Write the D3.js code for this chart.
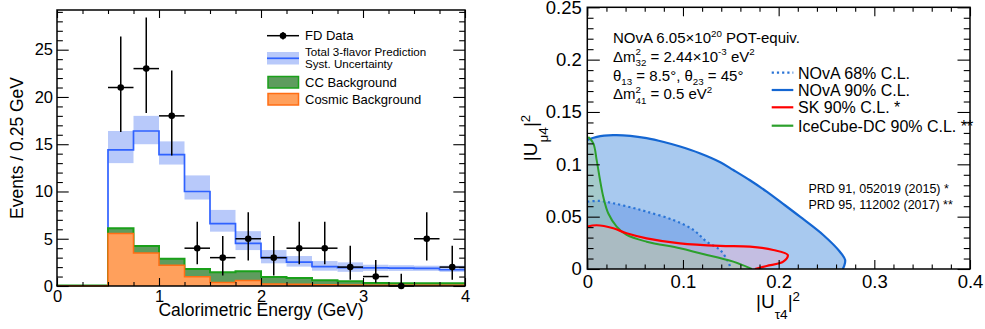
<!DOCTYPE html>
<html><head><meta charset="utf-8">
<script src="https://cdn.jsdelivr.net/npm/d3@7"></script>
<style>
body{margin:0;background:#fff;}
svg{display:block;font-family:"Liberation Sans",Arial,Helvetica,sans-serif;}
svg text{white-space:pre;}
</style></head><body>
<svg id="c" width="985" height="329"></svg>
<script>
// ---------- LEFT PANEL DATA ----------
const binEdges=[0,0.25,0.5,0.75,1,1.25,1.5,1.75,2,2.25,2.5,2.75,3,3.25,3.5,3.75,4];
const predTotal=[0,0,14.4,16.4,13.9,10.0,6.6,4.5,3.0,2.52,2.05,1.94,1.92,1.89,1.86,1.72];
const predLow=[0,0,13.0,15.0,12.85,9.15,5.75,3.8,2.4,2.05,1.62,1.5,1.6,1.6,1.6,1.5];
const predHigh=[0,0,16.4,18.0,15.3,11.7,8.05,5.8,3.8,3.17,2.64,2.5,2.25,2.2,2.15,2.15];
const ccStackTop=[0.05,0.05,6.12,4.22,2.89,1.8,1.45,1.56,0.96,0.85,0.6,0.49,0.32,0.3,0.3,0.3];
const cosmicBkg=[0.03,0.03,5.55,3.48,2.2,0.99,0.38,0.58,0.21,0.18,0.14,0.1,0.07,0.07,0.07,0.07];
const dataX=[0.625,0.875,1.125,1.375,1.625,1.875,2.125,2.375,2.625,2.875,3.125,3.375,3.625,3.875];
const dataY=[21,23,18,4,3,5,3,4,4,2,1,0,5,2];
const dataLow=[16.3,18.3,13.8,2.3,1.1,2.7,1.1,2.3,2.3,0.65,0.35,0,2.7,0.65];
const dataHigh=[26.4,28.4,22.8,6.8,5.3,7.8,5.3,6.8,6.8,4.25,2.75,1.3,7.8,4.25];
const leftYTicks=[0,5,10,15,20,25];
const leftYMinor=[1,2,3,4,6,7,8,9,11,12,13,14,16,17,18,19,21,22,23,24,26,27,28,29];
const leftXTicks=[0,1,2,3,4];
const leftXMinor=[0.25,0.5,0.75,1.25,1.5,1.75,2.25,2.5,2.75,3.25,3.5,3.75];

// ---------- RIGHT PANEL DATA ----------
const nova90=[[0,0.1233],[0.01,0.1262],[0.027,0.1278],[0.045,0.1272],[0.062,0.125],[0.08,0.1213],[0.097,0.117],[0.1175,0.1106],[0.139,0.102],[0.1526,0.0946],[0.17,0.0848],[0.1875,0.0739],[0.205,0.062],[0.2223,0.05],[0.2466,0.0325],[0.264,0.0165],[0.2695,0.0086],[0.2685,0.003],[0.267,0]];
const nova68=[[0,0.0643],[0.0133,0.065],[0.0272,0.0628],[0.045,0.059],[0.062,0.0548],[0.0899,0.0468],[0.111,0.0373],[0.1247,0.0261],[0.1387,0.0182],[0.146,0.009],[0.149,0.002],[0.148,0]];
const sk90=[[0,0.0405],[0.0098,0.0418],[0.0272,0.0389],[0.0411,0.0341],[0.062,0.0293],[0.0969,0.0245],[0.1387,0.022],[0.17,0.0213],[0.1944,0.0182],[0.2095,0.0134],[0.2048,0.007],[0.1875,0.0029],[0.1752,0]];
const ice90=[[0.001,0.126],[0.0063,0.12],[0.0098,0.104],[0.0133,0.085],[0.0167,0.069],[0.022,0.053],[0.0307,0.0405],[0.0411,0.0325],[0.062,0.0261],[0.0969,0.0198],[0.1178,0.015],[0.1526,0.007],[0.1718,0]];
const rightYTicks=[0,0.05,0.1,0.15,0.2,0.25];
const rightYMinor=[0.01,0.02,0.03,0.04,0.06,0.07,0.08,0.09,0.11,0.12,0.13,0.14,0.16,0.17,0.18,0.19,0.21,0.22,0.23,0.24];
const rightXTicks=[0,0.1,0.2,0.3,0.4];
const rightXMinor=[0.02,0.04,0.06,0.08,0.12,0.14,0.16,0.18,0.22,0.24,0.26,0.28,0.32,0.34,0.36,0.38];
const rightLegend=["NOvA 68% C.L.","NOvA 90% C.L.","SK 90% C.L. *","IceCube-DC 90% C.L. **"];
const refs=["PRD 91, 052019 (2015) *","PRD 95, 112002 (2017) **"];

const svg=d3.select('#c');
svg.append('rect').attr('width',985).attr('height',329).attr('fill','#fff');

// rich text helper
function rich(parent,x,y,parts,fs,o){
  o=Object.assign({supS:0.65,supDy:-0.42,subS:0.65,subDy:0.3,rot:false,center:false},o||{});
  const outer=parent.append('g').attr('transform',`translate(${x},${y})`+(o.rot?' rotate(-90)':''));
  const g=outer.append('g');
  let cx=0;
  const add=(t,size,dy)=>{const el=g.append('text').attr('x',cx).attr('y',dy).attr('font-size',size).attr('fill','#000').attr('xml:space','preserve').style('white-space','pre').text(t);return el.node().getComputedTextLength();};
  parts.forEach(p=>{
    if(p[0]==='n'){cx+=add(p[1],fs,0);}
    else if(p[0]==='sup'){cx+=add(p[1],fs*o.supS,fs*o.supDy);}
    else if(p[0]==='sub'){cx+=add(p[1],fs*o.subS,fs*o.subDy);}
    else if(p[0]==='ss'){const a=add(p[1],fs*o.supS,fs*o.supDy);const b=add(p[2],fs*o.subS,fs*o.subDy);cx+=Math.max(a,b);}
  });
  if(o.center) g.attr('transform',`translate(${-cx/2},0)`);
  return cx;
}

function drawAxes(xs,ys,xT,xMin,yT,yMin,opt){
  const [x0,x1]=xs.range(),[y0,y1]=ys.range();
  const g=svg.append('g');
  const mk=(axis,tr,vals,size,labels,pad,fs)=>{
    const a=axis.tickValues(vals).tickSize(size).tickPadding(pad);
    if(!labels) a.tickFormat('');
    else a.tickFormat(opt.fmt);
    const ga=g.append('g').attr('transform',tr).call(a);
    ga.select('.domain').remove();
    ga.selectAll('line').attr('stroke','#000').attr('stroke-width',1.1);
    ga.selectAll('text').attr('font-size',fs).attr('fill','#000').attr('font-family','"Liberation Sans",Arial,sans-serif');
  };
  mk(d3.axisLeft(ys),`translate(${x0},0)`,yT,-opt.yMaj,true,opt.yPad,opt.fs);
  mk(d3.axisLeft(ys),`translate(${x0},0)`,yMin,-opt.yMaj/2,false,0,0);
  mk(d3.axisRight(ys),`translate(${x1},0)`,yT,-opt.yMaj,false,0,0);
  mk(d3.axisRight(ys),`translate(${x1},0)`,yMin,-opt.yMaj/2,false,0,0);
  mk(d3.axisBottom(xs),`translate(0,${y0})`,xT,-opt.xMaj,true,opt.xPad,opt.fs);
  mk(d3.axisBottom(xs),`translate(0,${y0})`,xMin,-opt.xMaj/2,false,0,0);
  mk(d3.axisTop(xs),`translate(0,${y1})`,xT,-opt.xMaj,false,0,0);
  mk(d3.axisTop(xs),`translate(0,${y1})`,xMin,-opt.xMaj/2,false,0,0);
  g.append('rect').attr('x',x0).attr('y',y1).attr('width',x1-x0).attr('height',y0-y1)
    .attr('fill','none').attr('stroke','#000').attr('stroke-width',1.5);
}

// ================= LEFT PANEL =================
const xL=d3.scaleLinear([0,4],[57,465]);
const yL=d3.scaleLinear([0,29.2],[286,10]);
const L=svg.append('g');
const stepPts=(vals)=>vals.map((v,i)=>[binEdges[i],v]).concat([[binEdges[vals.length],vals[vals.length-1]]]);
const stepLine=d3.line().x(d=>xL(d[0])).y(d=>yL(d[1])).curve(d3.curveStepAfter);
const stepArea=d3.area().x(d=>xL(d[0])).y0(yL(0)).y1(d=>yL(d[1])).curve(d3.curveStepAfter);

// syst band
const bandPts=predLow.map((v,i)=>({x0:binEdges[i],x1:binEdges[i+1],lo:v,hi:predHigh[i]})).filter(d=>d.hi>0);
L.selectAll('.band').data(bandPts).join('rect')
  .attr('x',d=>xL(d.x0)).attr('width',d=>xL(d.x1)-xL(d.x0))
  .attr('y',d=>yL(d.hi)).attr('height',d=>yL(d.lo)-yL(d.hi))
  .attr('fill','#b8c9fa');
// prediction line (from 0.5 GeV)
const predPts=stepPts(predTotal).slice(2);
predPts.unshift([binEdges[2],0]);
L.append('path').attr('d',stepLine(predPts))
  .attr('fill','none').attr('stroke','#2f62ff').attr('stroke-width',1.7);
// CC background (stacked on cosmic)
L.append('path').attr('d',stepArea(stepPts(ccStackTop))).attr('fill','#5e9c5e');
L.append('path').attr('d',stepLine([[0,0]].concat(stepPts(ccStackTop)))).attr('fill','none').attr('stroke','#1aa01a').attr('stroke-width',2);
// cosmic
L.append('path').attr('d',stepArea(stepPts(cosmicBkg))).attr('fill','#ffa05c');
L.append('path').attr('d',stepLine([[0,0]].concat(stepPts(cosmicBkg)))).attr('fill','none').attr('stroke','#ff6e14').attr('stroke-width',1.5);
// data
const D=L.append('g');
dataX.forEach((x,i)=>{
  D.append('line').attr('x1',xL(x)).attr('x2',xL(x)).attr('y1',yL(dataLow[i])).attr('y2',yL(dataHigh[i])).attr('stroke','#000').attr('stroke-width',1.5);
  D.append('line').attr('x1',xL(x-0.125)).attr('x2',xL(x+0.125)).attr('y1',yL(dataY[i])).attr('y2',yL(dataY[i])).attr('stroke','#000').attr('stroke-width',1.5);
  D.append('circle').attr('cx',xL(x)).attr('cy',yL(dataY[i])).attr('r',3.3).attr('fill','#000');
});
drawAxes(xL,yL,leftXTicks,leftXMinor,leftYTicks,leftYMinor,{yMaj:11.7,xMaj:8,yPad:4,xPad:4,fs:16.5,fmt:d3.format('d')});
L.append('text').attr('x',261).attr('y',316).attr('text-anchor','middle').attr('font-size',17.5).text('Calorimetric Energy (GeV)');
L.append('text').attr('transform','translate(23,148) rotate(-90)').attr('text-anchor','middle').attr('font-size',17.5).text('Events / 0.25 GeV');

// left legend
const LG=svg.append('g');
LG.append('line').attr('x1',267).attr('x2',299).attr('y1',35.7).attr('y2',35.7).attr('stroke','#000').attr('stroke-width',1.5);
LG.append('line').attr('x1',283).attr('x2',283).attr('y1',32).attr('y2',39.5).attr('stroke','#000').attr('stroke-width',1.5);
LG.append('circle').attr('cx',283).attr('cy',35.7).attr('r',3.3).attr('fill','#000');
LG.append('text').attr('x',305).attr('y',40).attr('font-size',13).text('FD Data');
LG.append('rect').attr('x',267).attr('y',52).attr('width',32).attr('height',12.5).attr('fill','#b8c9fa');
LG.append('line').attr('x1',267).attr('x2',299).attr('y1',58.3).attr('y2',58.3).attr('stroke','#2f62ff').attr('stroke-width',1.7);
LG.append('text').attr('x',305).attr('y',56).attr('font-size',11.6).text('Total 3-flavor Prediction');
LG.append('text').attr('x',305).attr('y',68).attr('font-size',11.6).text('Syst. Uncertainty');
LG.append('rect').attr('x',268).attr('y',76.5).attr('width',30.5).attr('height',11.5).attr('fill','#5e9c5e').attr('stroke','#1aa01a').attr('stroke-width',1.5);
LG.append('text').attr('x',305).attr('y',86.5).attr('font-size',13).text('CC Background');
LG.append('rect').attr('x',268).attr('y',93.5).attr('width',30.5).attr('height',11.5).attr('fill','#ffa05c').attr('stroke','#ff6e14').attr('stroke-width',1.5);
LG.append('text').attr('x',305).attr('y',103.5).attr('font-size',13).text('Cosmic Background');

// ================= RIGHT PANEL =================
const xR=d3.scaleLinear([0,0.4],[587.3,970]);
const yR=d3.scaleLinear([0,0.25],[269,7.3]);
svg.append('clipPath').attr('id','rc').append('rect').attr('x',587.3).attr('y',7.3).attr('width',970-587.3).attr('height',269-7.3);
const R=svg.append('g').attr('clip-path','url(#rc)');
const cl=d3.line().x(d=>xR(d[0])).y(d=>yR(d[1])).curve(d3.curveCatmullRom.alpha(0.5));
const fillPath=pts=>cl(pts)+`L${xR(0)},${yR(0)}Z`;
R.append('path').attr('d',fillPath(nova90)).attr('fill','#a8c9ef');
R.append('path').attr('d',fillPath(nova68)).attr('fill','rgb(30,100,220)').attr('fill-opacity',0.25);
R.append('path').attr('d',fillPath(sk90)).attr('fill','rgb(230,178,210)').attr('fill-opacity',0.45);
R.append('path').attr('d',fillPath(ice90)).attr('fill','rgb(160,205,150)').attr('fill-opacity',0.4);
R.append('path').attr('d',cl(nova90)).attr('fill','none').attr('stroke','#1466d2').attr('stroke-width',2.2);
R.append('path').attr('d',cl(nova68)).attr('fill','none').attr('stroke','#2a74d6').attr('stroke-width',2.2).attr('stroke-dasharray','2.2,3');
R.append('path').attr('d',cl(ice90)).attr('fill','none').attr('stroke','#2ca02c').attr('stroke-width',2);
R.append('path').attr('d',cl(sk90)).attr('fill','none').attr('stroke','#ff0000').attr('stroke-width',2.2);

drawAxes(xR,yR,rightXTicks,rightXMinor,rightYTicks,rightYMinor,{yMaj:12.5,xMaj:9,yPad:5.5,xPad:6,fs:18.5,fmt:d=>d===0?'0':d3.format('')(d)});

// titles
rich(svg,778,307.7,[['n','|U'],['sub','τ4'],['n','|'],['sup','2']],19,{supS:0.7,supDy:-0.35,subS:0.72,subDy:0.6,center:true});
rich(svg,537,138,[['n','|U'],['sub','μ4'],['n','|'],['sup','2']],19,{supS:0.7,supDy:-0.35,subS:0.72,subDy:0.6,center:true,rot:true});

// info text
const T=svg.append('g');
rich(T,613,43.3,[['n','NOvA 6.05×10'],['sup','20'],['n',' POT-equiv.']],15);
rich(T,613,61.7,[['n','Δm'],['ss','2','32'],['n',' = 2.44×10'],['sup','-3'],['n',' eV'],['sup','2']],15);
rich(T,613,80.7,[['n','θ'],['sub','13'],['n',' = 8.5°, θ'],['sub','23'],['n',' = 45°']],15);
rich(T,613,99.3,[['n','Δm'],['ss','2','41'],['n',' = 0.5 eV'],['sup','2']],15);

// right legend
const legY=[72.7,90,107.3,125.7];
const legStyle=[{c:'#2a74d6',dash:'2.2,3'},{c:'#1466d2',dash:null},{c:'#ff0000',dash:null},{c:'#2ca02c',dash:null}];
rightLegend.forEach((t,i)=>{
  const ln=svg.append('line').attr('x1',771.7).attr('x2',793.3).attr('y1',legY[i]).attr('y2',legY[i]).attr('stroke',legStyle[i].c).attr('stroke-width',2.2);
  if(legStyle[i].dash) ln.attr('stroke-dasharray',legStyle[i].dash);
  svg.append('text').attr('x',798).attr('y',legY[i]+5.8).attr('font-size',16).text(t);
});
refs.forEach((t,i)=>{
  svg.append('text').attr('x',808.5).attr('y',193+i*16).attr('font-size',12.5).text(t);
});
</script>
</body></html>
